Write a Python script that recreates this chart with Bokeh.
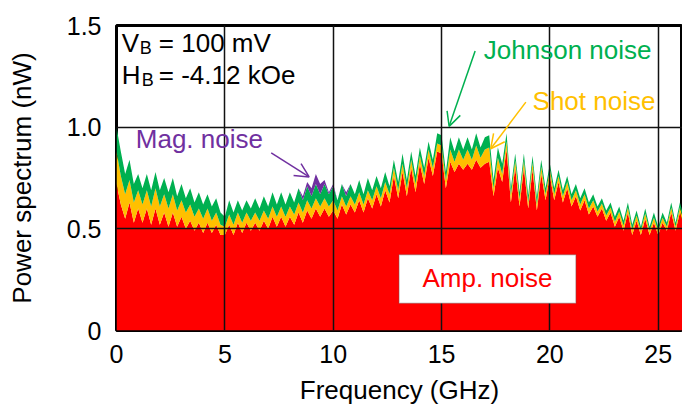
from bokeh.plotting import figure
from bokeh.models import (ColumnDataSource, Range1d, FixedTicker, Label, Arrow,
                          OpenHead, BoxAnnotation)
from bokeh.embed import file_html
from bokeh.resources import INLINE

freq = [0.0, 0.2, 0.4, 0.6, 0.8, 1.0, 1.2, 1.4, 1.6, 1.8,
        2.0, 2.2, 2.4, 2.6, 2.8, 3.0, 3.2, 3.4, 3.6, 3.8,
        4.0, 4.2, 4.4, 4.6, 4.8, 5.0, 5.2, 5.4, 5.6, 5.8,
        6.0, 6.2, 6.4, 6.6, 6.8, 7.0, 7.2, 7.4, 7.6, 7.8,
        8.0, 8.2, 8.4, 8.6, 8.8, 9.0, 9.2, 9.4, 9.6, 9.8,
        10.0, 10.2, 10.4, 10.6, 10.8, 11.0, 11.2, 11.4, 11.6, 11.8,
        12.0, 12.2, 12.4, 12.6, 12.8, 13.0, 13.2, 13.4, 13.6, 13.8,
        14.0, 14.2, 14.4, 14.6, 14.8, 15.0, 15.2, 15.4, 15.6, 15.8,
        16.0, 16.2, 16.4, 16.6, 16.8, 17.0, 17.2, 17.4, 17.6, 17.8,
        18.0, 18.2, 18.4, 18.6, 18.8, 19.0, 19.2, 19.4, 19.6, 19.8,
        20.0, 20.2, 20.4, 20.6, 20.8, 21.0, 21.2, 21.4, 21.6, 21.8,
        22.0, 22.2, 22.4, 22.6, 22.8, 23.0, 23.2, 23.4, 23.6, 23.8,
        24.0, 24.2, 24.4, 24.6, 24.8, 25.0, 25.2, 25.4, 25.6, 25.8,
        26.0, 26.2]

amp_noise = [0.72, 0.62, 0.55, 0.63, 0.53, 0.60, 0.53, 0.60, 0.52, 0.60,
             0.52, 0.58, 0.51, 0.58, 0.51, 0.56, 0.50, 0.54, 0.49, 0.53,
             0.48, 0.53, 0.48, 0.52, 0.47, 0.47, 0.52, 0.47, 0.53, 0.48,
             0.53, 0.49, 0.53, 0.49, 0.54, 0.50, 0.56, 0.51, 0.56, 0.51,
             0.56, 0.52, 0.58, 0.53, 0.59, 0.55, 0.60, 0.56, 0.60, 0.56,
             0.59, 0.55, 0.62, 0.57, 0.62, 0.58, 0.64, 0.58, 0.65, 0.60,
             0.67, 0.61, 0.69, 0.63, 0.76, 0.65, 0.78, 0.66, 0.80, 0.68,
             0.82, 0.72, 0.85, 0.76, 0.88, 0.87, 0.70, 0.83, 0.78, 0.82,
             0.79, 0.82, 0.79, 0.84, 0.80, 0.82, 0.83, 0.66, 0.80, 0.73,
             0.89, 0.63, 0.80, 0.61, 0.80, 0.60, 0.79, 0.59, 0.77, 0.64,
             0.76, 0.64, 0.73, 0.63, 0.70, 0.61, 0.66, 0.59, 0.64, 0.57,
             0.61, 0.56, 0.60, 0.54, 0.58, 0.51, 0.56, 0.49, 0.58, 0.47,
             0.54, 0.47, 0.55, 0.47, 0.53, 0.47, 0.53, 0.49, 0.58, 0.49,
             0.58, 0.51]

shot_noise = [0.16, 0.14, 0.12, 0.11, 0.10, 0.09, 0.09, 0.09, 0.09, 0.10,
              0.09, 0.09, 0.09, 0.09, 0.08, 0.08, 0.08, 0.08, 0.07, 0.07,
              0.07, 0.07, 0.06, 0.06, 0.05, 0.04, 0.05, 0.05, 0.05, 0.05,
              0.05, 0.05, 0.05, 0.05, 0.05, 0.05, 0.05, 0.05, 0.05, 0.05,
              0.05, 0.05, 0.05, 0.05, 0.05, 0.05, 0.05, 0.05, 0.05, 0.05,
              0.05, 0.04, 0.04, 0.04, 0.04, 0.04, 0.04, 0.04, 0.04, 0.04,
              0.04, 0.04, 0.04, 0.04, 0.04, 0.04, 0.04, 0.04, 0.04, 0.04,
              0.04, 0.04, 0.04, 0.04, 0.04, 0.04, 0.04, 0.06, 0.05, 0.07,
              0.05, 0.07, 0.05, 0.07, 0.05, 0.07, 0.07, 0.04, 0.05, 0.04,
              0.04, 0.035, 0.035, 0.035, 0.035, 0.03, 0.035, 0.03, 0.035, 0.03,
              0.03, 0.03, 0.03, 0.03, 0.03, 0.03, 0.03, 0.03, 0.03, 0.03,
              0.03, 0.025, 0.025, 0.025, 0.025, 0.025, 0.025, 0.025, 0.025, 0.025,
              0.025, 0.02, 0.025, 0.02, 0.025, 0.02, 0.025, 0.02, 0.025, 0.02,
              0.025, 0.02]

johnson_noise = [0.12, 0.12, 0.10, 0.10, 0.09, 0.08, 0.08, 0.08, 0.08, 0.08,
                 0.08, 0.08, 0.08, 0.08, 0.07, 0.08, 0.07, 0.08, 0.07, 0.08,
                 0.07, 0.07, 0.07, 0.07, 0.06, 0.05, 0.07, 0.06, 0.06, 0.06,
                 0.06, 0.06, 0.07, 0.06, 0.07, 0.06, 0.07, 0.06, 0.07, 0.06,
                 0.07, 0.06, 0.07, 0.06, 0.07, 0.06, 0.07, 0.06, 0.07, 0.06,
                 0.07, 0.05, 0.06, 0.05, 0.06, 0.05, 0.06, 0.05, 0.06, 0.05,
                 0.05, 0.05, 0.05, 0.04, 0.04, 0.04, 0.05, 0.04, 0.04, 0.04,
                 0.04, 0.04, 0.04, 0.04, 0.05, 0.05, 0.04, 0.06, 0.05, 0.06,
                 0.05, 0.06, 0.05, 0.06, 0.05, 0.06, 0.06, 0.04, 0.05, 0.05,
                 0.04, 0.035, 0.035, 0.035, 0.035, 0.035, 0.035, 0.035, 0.035, 0.03,
                 0.03, 0.03, 0.03, 0.03, 0.03, 0.03, 0.03, 0.03, 0.03, 0.03,
                 0.03, 0.025, 0.025, 0.025, 0.025, 0.025, 0.025, 0.025, 0.025, 0.025,
                 0.025, 0.02, 0.025, 0.02, 0.025, 0.02, 0.025, 0.02, 0.025, 0.02,
                 0.025, 0.02]

mag_noise = [0.0] * 43 + [0.02, 0.02, 0.04, 0.05, 0.05, 0.02, 0.01, 0.01, 0.0,
                          0.0, 0.02] + [0.0] * 78

x_ticks = [0, 5, 10, 15, 20, 25]
y_ticks = [0, 0.5, 1.0, 1.5]
y_tick_labels = {0: "0", 0.5: "0.5", 1: "1.0", 1.5: "1.5"}

FONT = "Liberation Sans"

src = ColumnDataSource(dict(freq=freq, amp=amp_noise, shot=shot_noise,
                            johnson=johnson_noise, mag=mag_noise))

p = figure(width=682, height=405, frame_width=566, frame_height=305,
           output_backend="svg", toolbar_location=None,
           x_range=Range1d(0, 26.12), y_range=Range1d(0, 1.5),
           min_border_left=116, min_border_right=0, min_border_top=25,
           min_border_bottom=75)
p.background_fill_color = "white"
p.border_fill_color = "white"
p.outline_line_color = "black"
p.outline_line_width = 3

p.varea_stack(stackers=["amp", "shot", "johnson", "mag"], x="freq",
              color=["#FF0000", "#FFC000", "#00B050", "#7030A0"], source=src)

for ax in (p.xaxis[0], p.yaxis[0]):
    ax.axis_line_color = None
    ax.major_tick_line_color = None
    ax.minor_tick_line_color = None
    ax.major_tick_out = 0
    ax.major_tick_in = 0
    ax.minor_tick_out = 0
    ax.minor_tick_in = 0
    ax.major_label_text_font = FONT
    ax.major_label_text_font_size = "25px"
    ax.major_label_text_color = "black"
    ax.axis_label_text_font = FONT
    ax.axis_label_text_font_size = "26px"
    ax.axis_label_text_font_style = "normal"
    ax.axis_label_text_color = "black"

p.xaxis.ticker = FixedTicker(ticks=x_ticks)
p.yaxis.ticker = FixedTicker(ticks=y_ticks)
p.yaxis.major_label_overrides = y_tick_labels
p.xaxis.axis_label = "Frequency (GHz)"
p.yaxis.axis_label = "Power spectrum (nW)"
p.xaxis.major_label_standoff = 14
p.yaxis.major_label_standoff = 15
p.xaxis.axis_label_standoff = 9
p.yaxis.axis_label_standoff = 27

for g in (p.xgrid[0], p.ygrid[0]):
    g.grid_line_color = "#111111"
    g.grid_line_width = 1.5
    g.level = "guide"
p.xgrid.ticker = FixedTicker(ticks=x_ticks)
p.ygrid.ticker = FixedTicker(ticks=y_ticks)


def lab(x, y, text, color="black", size="26px", align="left"):
    p.add_layout(Label(x=x, y=y, text=text, text_color=color,
                       text_font=FONT, text_font_size=size,
                       text_align=align, text_baseline="alphabetic"))


# parameter text
lab(0.245, 1.413, "V")
lab(1.075, 1.389, "B", size="18px")
lab(1.952, 1.413, "= 100 mV")
lab(0.245, 1.256, "H")
lab(1.17, 1.231, "B", size="18px")
lab(1.952, 1.256, "= -4.12 kOe")

# noise labels
lab(0.89, 0.941, "Mag. noise", color="#7030A0")
lab(16.95, 1.379, "Johnson noise", color="#00B050")
lab(19.2, 1.128, "Shot noise", color="#FFC000")

for (xs, ys, xe, ye, c) in [(7.14, 0.873, 8.89, 0.755, "#7030A0"),
                            (16.55, 1.374, 15.35, 1.004, "#00B050"),
                            (18.89, 1.123, 17.27, 0.894, "#FFC000")]:
    p.add_layout(Arrow(x_start=xs, y_start=ys, x_end=xe, y_end=ye,
                       line_color=c, line_width=1.5,
                       end=OpenHead(size=14, line_color=c, line_width=1.5)))

p.add_layout(BoxAnnotation(left=13.04, right=21.2, bottom=0.134, top=0.372,
                           fill_color="white", fill_alpha=1.0,
                           line_color="#606060", line_width=1.5))
lab(17.12, 0.257, "Amp. noise", color="#FF0000", align="center")

open("out.html", "w").write(file_html(p, INLINE))
